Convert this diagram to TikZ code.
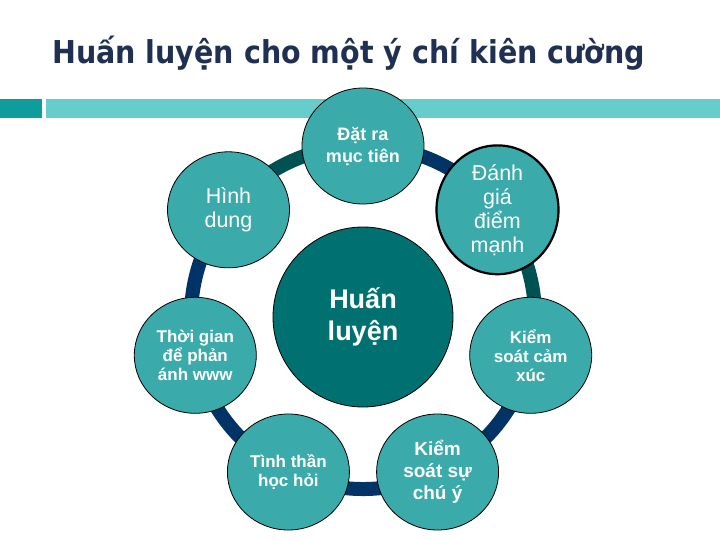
\documentclass[tikz,border=0pt]{standalone}
\usepackage{fontspec}
\setmainfont{Liberation Sans}
\newfontfamily\titlefont{DejaVu Sans}
\usetikzlibrary{shapes.geometric,backgrounds}
\definecolor{titlecol}{RGB}{31,48,82}
\definecolor{barDark}{RGB}{14,156,156}
\definecolor{barLight}{RGB}{102,204,204}
\definecolor{nodefill}{RGB}{58,170,170}
\definecolor{hubfill}{RGB}{0,112,112}
\definecolor{arcTeal}{RGB}{0,82,82}
\definecolor{arcNavy}{RGB}{0,51,102}
\tikzset{
  petal/.style={ellipse, draw=black, line width=0.8pt, fill=nodefill, text=white,
    minimum width=122pt, minimum height=116pt, inner sep=0pt, align=center},
  hub/.style={circle, draw=black, line width=0.8pt, fill=hubfill, text=white,
    minimum size=180pt, inner sep=0pt, align=center},
  ring/.style={line width=14pt, line cap=butt, bend left=25.7, looseness=0.9},
  smalltxt/.style={font=\fontsize{17}{19}\selectfont\bfseries},
}
\begin{document}
\begin{tikzpicture}[x=1pt,y=-1pt]
\useasboundingbox (0,0) rectangle (720,540);
% title
\node[anchor=base west, inner sep=0pt, text=titlecol] (title) at (52,64)
  {\resizebox{593pt}{\height}{\titlefont\bfseries\fontsize{31.5}{36}\selectfont Huấn luyện cho một ý chí kiên cường}};
% bar
\fill[barDark] (0,99) rectangle (42,118);
\fill[barLight] (46,99) rectangle (720,118);
% nodes
\node[hub, font=\fontsize{27}{32}\selectfont\bfseries] (hub) at (363,317) {Huấn\\luyện};
\node[petal, font=\fontsize{18}{22}\selectfont\bfseries] (n1) at (363,146) {Đặt ra\\mục tiên};
\node[petal, line width=2.2pt, font=\fontsize{21.5}{24}\selectfont] (n2) at (497.5,209.8) {Đánh\\giá\\điểm\\mạnh};
\node[petal, smalltxt] (n3) at (530.7,355.3) {Kiểm\\soát cảm\\xúc};
\node[petal, font=\fontsize{19}{22}\selectfont\bfseries] (n4) at (437.6,472.0) {Kiểm\\soát sự\\chú ý};
\node[petal, smalltxt] (n5) at (288.4,472.0) {Tình thần\\học hỏi};
\node[petal, smalltxt] (n6) at (195.3,355.3) {Thời gian\\để phản\\ánh www};
\node[petal, font=\fontsize{21.5}{24}\selectfont] (n7) at (228.5,209.8) {Hình\\dung};
% ring arcs
\begin{scope}[on background layer]
\fill[white] (0,0) rectangle (720,540);
\draw[ring, arcNavy] (n1.center) to (n2.center);
\draw[ring, arcTeal] (n2.center) to (n3.center);
\draw[ring, arcNavy] (n3.center) to (n4.center);
\draw[ring, arcNavy] (n4.center) to (n5.center);
\draw[ring, arcNavy] (n5.center) to (n6.center);
\draw[ring, arcNavy] (n6.center) to (n7.center);
\draw[ring, arcTeal] (n7.center) to (n1.center);
\end{scope}
\end{tikzpicture}
\end{document}
